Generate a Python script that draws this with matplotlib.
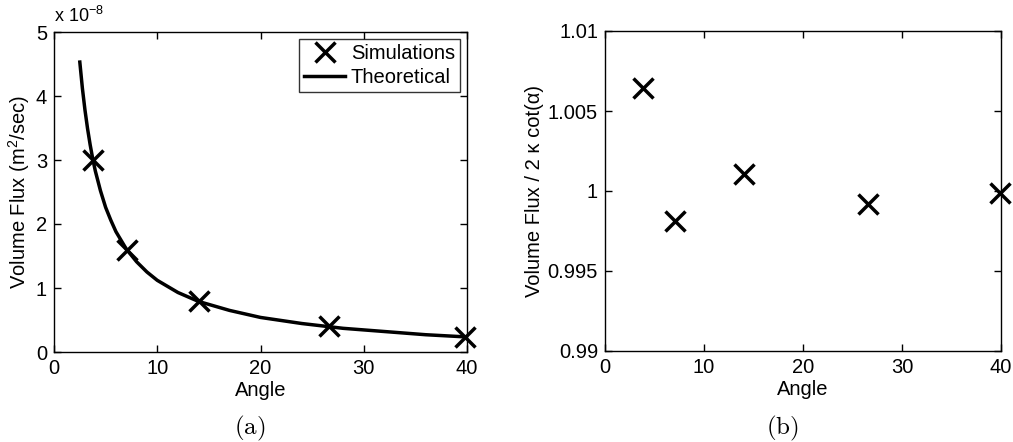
import matplotlib
matplotlib.use("Agg")
import matplotlib.pyplot as plt

plt.rcParams['font.family'] = ['Liberation Sans', 'DejaVu Sans']
plt.rcParams['mathtext.fontset'] = 'custom'
plt.rcParams['mathtext.rm'] = 'Liberation Sans'

# simulation points (angle in degrees)
angles = [3.8, 7.1, 14.0, 26.6, 39.85]
flux_sim = [3.005, 1.59, 0.79, 0.40, 0.23]  # x 1e-8 m^2/sec
ratio_sim = [1.00646, 0.99814, 1.00109, 0.99918, 0.99989]

# theoretical curve, points
theo_angle = [2.5, 2.75, 3.0, 3.25, 3.5, 3.75, 4.0, 4.5, 5.0, 5.5, 6.0, 7.0, 8.0, 9.0,
              10.0, 12.0, 14.0, 17.0, 20.0, 24.0, 28.0, 32.0, 36.0, 40.0]
theo_flux = [4.53, 4.12, 3.78, 3.49, 3.24, 3.02, 2.83, 2.52, 2.26, 2.06, 1.88, 1.61,
             1.41, 1.25, 1.12, 0.93, 0.79, 0.65, 0.54, 0.445, 0.37, 0.32, 0.27, 0.235]

fs = 14.5

fig = plt.figure(figsize=(10.13, 4.42), dpi=100)
W, H = 1013, 442
ax1 = fig.add_axes([54 / W, 1 - 352 / H, 413 / W, 320 / H])
ax2 = fig.add_axes([605 / W, 1 - 351 / H, 396 / W, 320 / H])

ax1.plot(angles, flux_sim, 'kx', ms=14, mew=2.5, label='Simulations', clip_on=False)
ax1.plot(theo_angle, theo_flux, 'k-', lw=2.5, label='Theoretical')
ax1.set_xlim(0, 40)
ax1.set_ylim(0, 5)
ax1.set_xticks([0, 10, 20, 30, 40])
ax1.set_yticks([0, 1, 2, 3, 4, 5])
ax1.set_xlabel('Angle', fontsize=fs, labelpad=2)
ax1.set_ylabel('Volume Flux (m$^2$/sec)', fontsize=fs, labelpad=3)
ax1.text(0.0, 1.02, r'x 10$^{-8}$', transform=ax1.transAxes, fontsize=13,
         va='bottom', ha='left')
leg = ax1.legend(loc='upper right', fontsize=fs, frameon=True, fancybox=False,
                 edgecolor='k', borderaxespad=0.35, handlelength=2.0,
                 borderpad=0.25, labelspacing=0.25, handletextpad=0.3)
leg.get_frame().set_linewidth(1.0)

ax2.plot(angles, ratio_sim, 'kx', ms=14, mew=2.5, clip_on=False)
ax2.set_xlim(0, 40)
ax2.set_ylim(0.99, 1.01)
ax2.set_xticks([0, 10, 20, 30, 40])
ax2.set_yticks([0.99, 0.995, 1.0, 1.005, 1.01])
ax2.set_yticklabels(['0.99', '0.995', '1', '1.005', '1.01'])
ax2.set_xlabel('Angle', fontsize=fs, labelpad=2)
ax2.set_ylabel('Volume Flux / 2 κ cot(α)', fontsize=fs, labelpad=3)

for ax in (ax1, ax2):
    ax.tick_params(direction='in', top=True, right=True, length=5, width=1,
                   labelsize=fs, pad=5)
    for s in ax.spines.values():
        s.set_linewidth(1.0)

fig.text(250 / W, 1 - 428 / H, r'$\mathrm{(a)}$', ha='center', va='center',
         fontsize=18, math_fontfamily='cm')
fig.text(782 / W, 1 - 428 / H, r'$\mathrm{(b)}$', ha='center', va='center',
         fontsize=18, math_fontfamily='cm')

fig.savefig('out.png', dpi=100)
